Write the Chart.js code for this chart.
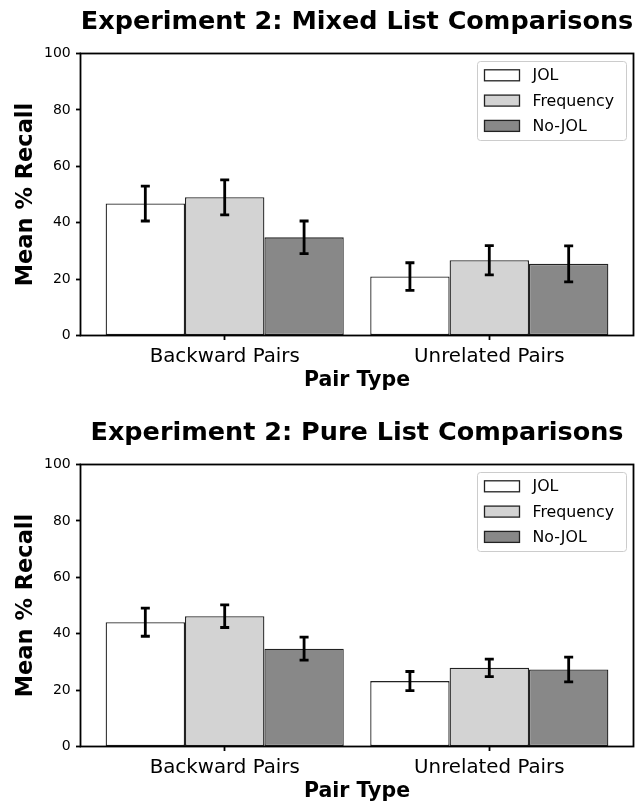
<!DOCTYPE html>
<html>
<head>
<meta charset="utf-8">
<script src="https://cdn.jsdelivr.net/npm/chart.js@4.4.0/dist/chart.umd.min.js"></script>
<style>
  html, body { margin: 0; padding: 0; background: #fff; }
  #wrap { position: relative; width: 640px; height: 805px; overflow: hidden; }
  canvas { position: absolute; left: 0; }
</style>
</head>
<body>
<div id="wrap">
  <canvas id="mixed" width="640" height="402" style="top:0"></canvas>
  <canvas id="pure" width="640" height="394" style="top:411px"></canvas>
</div>
<script>
const pairTypes = ["Backward Pairs", "Unrelated Pairs"];
const conditions = ["JOL", "Frequency", "No-JOL"];
const yTicks = [0, 20, 40, 60, 80, 100];

// Experiment 2, mixed lists (mean, error)
const mixedJOL = [46.8, 20.9];
const mixedFreq = [49.0, 26.7];
const mixedNoJOL = [34.8, 25.4];
const mixedJOLErr = [6.2, 4.9];
const mixedFreqErr = [6.2, 5.2];
const mixedNoJOLErr = [5.8, 6.4];

// Experiment 2, pure lists
const pureJOL = [44.1, 23.2];
const pureFreq = [46.2, 27.9];
const pureNoJOL = [34.7, 27.3];
const pureJOLErr = [5.0, 3.4];
const pureFreqErr = [4.0, 3.1];
const pureNoJOLErr = [4.1, 4.4];

const fills = ["#ffffff", "#d3d3d3", "#888888"];
const FONT = "'DejaVu Sans', sans-serif";

const errorBars = {
  id: "errorBars",
  afterDatasetsDraw(chart) {
    const ctx = chart.ctx, y = chart.scales.y;
    ctx.save();
    ctx.strokeStyle = "#000";
    ctx.lineWidth = 2.8;
    chart.data.datasets.forEach((ds, di) => {
      chart.getDatasetMeta(di).data.forEach((bar, i) => {
        const v = ds.data[i].y, e = ds.errors[i];
        const top = y.getPixelForValue(v + e), bot = y.getPixelForValue(v - e);
        ctx.beginPath();
        ctx.moveTo(bar.x, top); ctx.lineTo(bar.x, bot);
        ctx.moveTo(bar.x - 4.5, top); ctx.lineTo(bar.x + 4.5, top);
        ctx.moveTo(bar.x - 4.5, bot); ctx.lineTo(bar.x + 4.5, bot);
        ctx.stroke();
      });
    });
    ctx.restore();
  }
};

const frameAndLegend = {
  id: "frameAndLegend",
  afterDraw(chart) {
    const ctx = chart.ctx, a = chart.chartArea;
    ctx.save();
    ctx.strokeStyle = "#000";
    ctx.lineWidth = 1.8;
    ctx.strokeRect(a.left, a.top, a.right - a.left, a.bottom - a.top);

    // legend box, upper right
    const w = 149, h = 79;
    const bx = a.right - 7 - w, by = a.top + 8;
    ctx.beginPath();
    ctx.roundRect(bx, by, w, h, 3);
    ctx.fillStyle = "rgba(255,255,255,0.8)";
    ctx.fill();
    ctx.strokeStyle = "#cccccc";
    ctx.lineWidth = 1;
    ctx.stroke();
    ctx.font = "15.8px " + FONT;
    ctx.textBaseline = "middle";
    chart.data.datasets.forEach((ds, i) => {
      const cy = by + 13.8 + i * 25.3;
      ctx.fillStyle = ds.backgroundColor;
      ctx.fillRect(bx + 7, cy - 5.5, 35, 11);
      ctx.strokeStyle = "#222";
      ctx.lineWidth = 1.3;
      ctx.strokeRect(bx + 7, cy - 5.5, 35, 11);
      ctx.fillStyle = "#000";
      ctx.fillText(ds.label, bx + 55, cy + 1);
    });
    ctx.restore();
  }
};

function makeChart(id, title, series, errs, bottomPad) {
  return new Chart(document.getElementById(id), {
    type: "bar",
    data: {
      datasets: conditions.map((c, k) => ({
        label: c,
        data: series[k].map((v, i) => ({ x: i, y: v })),
        errors: errs[k],
        backgroundColor: fills[k],
        borderColor: "#222",
        borderWidth: 1.3,
        borderSkipped: false
      }))
    },
    options: {
      responsive: false,
      animation: false,
      devicePixelRatio: 1,
      categoryPercentage: 0.9,
      barPercentage: 1.0,
      layout: { padding: { left: 0, right: 6.5, top: 0, bottom: bottomPad } },
      plugins: {
        legend: { display: false },
        tooltip: { enabled: false },
        title: {
          display: true, text: title, fullSize: false, color: "#000",
          font: { family: FONT, size: 25.5, weight: "bold" },
          padding: { top: 6.7, bottom: 16.2 }
        }
      },
      scales: {
        x: {
          type: "linear", min: -0.545, max: 1.545, offset: false,
          afterBuildTicks: s => { s.ticks = pairTypes.map((_, i) => ({ value: i })); },
          afterFit: s => { s.height = 57.9; },
          ticks: {
            callback: v => pairTypes[v], autoSkip: false, maxRotation: 0,
            color: "#000", padding: 4.8, font: { family: FONT, size: 19.8 }
          },
          grid: { display: true, offset: false, drawOnChartArea: false, drawTicks: true,
                  tickLength: 4.5, tickWidth: 1.8, tickColor: "#000" },
          border: { display: false },
          title: { display: true, text: "Pair Type", color: "#000",
                   font: { family: FONT, size: 20.5, weight: "bold" }, padding: { top: 0, bottom: 0 } }
        },
        y: {
          min: 0, max: 100,
          afterBuildTicks: s => { s.ticks = yTicks.map(v => ({ value: v })); },
          afterFit: s => { s.width = 80.5; },
          ticks: { color: "#000", padding: 5.3, font: { family: FONT, size: 14 } },
          grid: { display: true, drawOnChartArea: false, drawTicks: true,
                  tickLength: 4.5, tickWidth: 1.8, tickColor: "#000" },
          border: { display: false },
          title: { display: true, text: "Mean % Recall", color: "#000",
                   font: { family: FONT, size: 22.5, weight: "bold" }, padding: { top: 12.5, bottom: 0 } }
        }
      }
    },
    plugins: [errorBars, frameAndLegend]
  });
}

makeChart("mixed", "Experiment 2: Mixed List Comparisons",
  [mixedJOL, mixedFreq, mixedNoJOL], [mixedJOLErr, mixedFreqErr, mixedNoJOLErr], 8.6);
makeChart("pure", "Experiment 2: Pure List Comparisons",
  [pureJOL, pureFreq, pureNoJOL], [pureJOLErr, pureFreqErr, pureNoJOLErr], 0.6);
</script>
</body>
</html>
